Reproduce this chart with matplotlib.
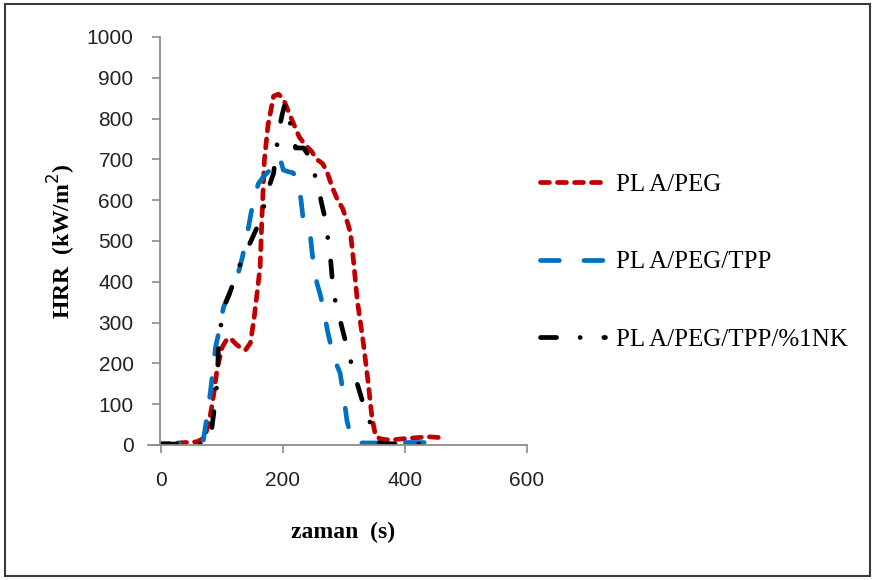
#!/usr/bin/env python3
"""
HRR curves for PLA/PEG blends (cone calorimeter)
"""

import matplotlib
matplotlib.use('Agg')
import matplotlib.pyplot as plt
from matplotlib.patches import Rectangle

# Data
t_pla_peg = [0, 20, 40, 60, 72, 80, 86, 93, 101, 108, 114, 123, 131, 139, 147, 153,
             158, 163, 166, 170, 176, 185, 193, 201, 210, 217, 227, 237, 247, 256,
             265, 272, 281, 290, 298, 305, 311, 316, 322, 332, 340, 346, 352, 360,
             375, 395, 420, 440, 460]
hrr_pla_peg = [3, 4, 6, 8, 18, 60, 115, 190, 240, 258, 262, 248, 238, 233, 250, 310,
               372, 437, 560, 700, 785, 855, 860, 848, 815, 790, 755, 735, 720, 700,
               690, 672, 632, 600, 580, 550, 520, 450, 355, 250, 152, 69, 22, 15,
               12, 15, 18, 20, 18]

t_tpp = [0, 20, 40, 60, 70, 76, 82, 90, 95, 103, 111, 119, 127, 134, 141, 147, 152,
         160, 168, 175, 180, 186, 191, 196, 201, 209, 217, 224, 230, 234, 240, 245,
         250, 256, 262, 267, 273, 283, 294, 300, 305, 312, 320, 340, 370, 400, 430, 470]
hrr_tpp = [2, 2, 3, 4, 12, 70, 135, 240, 274, 338, 365, 387, 420, 461, 510, 559, 600,
           640, 657, 668, 674, 690, 706, 700, 674, 670, 667, 650, 600, 544, 525, 515,
           446, 397, 365, 331, 282, 216, 176, 118, 61, 15, 5, 5, 5, 6, 6, 5]

t_nk = [0, 20, 40, 60, 75, 82, 87, 93, 95, 103, 115, 126, 137, 147, 157, 166, 172,
        179, 185, 193, 199, 204, 210, 217, 221, 228, 234, 240, 245, 252, 258, 264,
        270, 278, 283, 290, 298, 306, 314, 322, 330, 338, 346, 354, 365, 390, 420, 450]
hrr_nk = [2, 2, 2, 2, 3, 20, 78, 160, 257, 335, 380, 429, 465, 497, 530, 568, 600,
          640, 666, 765, 810, 838, 800, 765, 728, 728, 728, 715, 698, 665, 632, 590,
          551, 461, 372, 330, 282, 235, 191, 150, 110, 75, 44, 7, 3, 3, 3, 3]

labels = ['PL A/PEG', 'PL A/PEG/TPP', 'PL A/PEG/TPP/%1NK']
x_ticks = [0, 200, 400, 600]
y_ticks = list(range(0, 1001, 100))

# Colors
color_red = '#C00000'
color_blue = '#0070C0'
color_black = '#000000'
color_axis = '#8C8C8C'

serif = ['Liberation Serif', 'DejaVu Serif']
sans = ['Liberation Sans', 'DejaVu Sans']

fig = plt.figure(figsize=(8.75, 5.8), dpi=100)
ax = fig.add_axes([160 / 875, 135 / 580, 367 / 875, 408 / 580])

lw = 3.4
ax.plot(t_pla_peg, hrr_pla_peg, color=color_red, lw=lw, dashes=(1.9, 1.7),
        dash_capstyle='round', solid_capstyle='round', label=labels[0])
ax.plot(t_tpp, hrr_tpp, color=color_blue, lw=lw, dashes=(4.0, 5.2),
        dash_capstyle='round', label=labels[1])
ax.plot(t_nk, hrr_nk, color=color_black, lw=lw, dashes=(3.4, 5.0, 0.01, 5.0),
        dash_capstyle='round', label=labels[2])

ax.set_xticks(x_ticks)
ax.set_yticks(y_ticks)
ax.set_xlim(-1, 600)
ax.set_ylim(0, 1000)

for side in ['top', 'right']:
    ax.spines[side].set_visible(False)
for side in ['left', 'bottom']:
    ax.spines[side].set_color(color_axis)
    ax.spines[side].set_linewidth(1.3)
ax.spines['bottom'].set_bounds(-20, 600)
ax.set_facecolor('none')
fig.patch.set_facecolor('white')

ax.tick_params(axis='both', direction='out', length=6, width=1.2,
               color=color_axis, labelsize=15, pad=13)
for lab in ax.get_xticklabels() + ax.get_yticklabels():
    lab.set_family(sans)
    lab.set_color('#222222')

ax.set_xlabel('zaman  (s)', fontsize=17, fontweight='bold', family=serif, va='center')
ax.xaxis.set_label_coords(0.5, (445 - 532) / 408)
ax.set_ylabel('HRR  (kW/m$^{2}$)', fontsize=17, fontweight='bold', family=serif, va='center')
ax.yaxis.set_label_coords((62 - 160) / 367, 0.5)

leg = ax.legend(loc='center left', bbox_to_anchor=(540 / 875, 1 - 262 / 580),
                bbox_transform=fig.transFigure, frameon=False,
                prop={'family': serif, 'size': 18},
                handlelength=2.6, handletextpad=0.45, labelspacing=2.2,
                borderpad=0, borderaxespad=0)

# outer frame of the picture
fig.patches.append(Rectangle((5 / 875, 4 / 580), 865 / 875, 572 / 580,
                             transform=fig.transFigure, fill=False,
                             edgecolor='#3A3A3A', linewidth=1.5))

plt.savefig('out.png', dpi=100, facecolor='white')
